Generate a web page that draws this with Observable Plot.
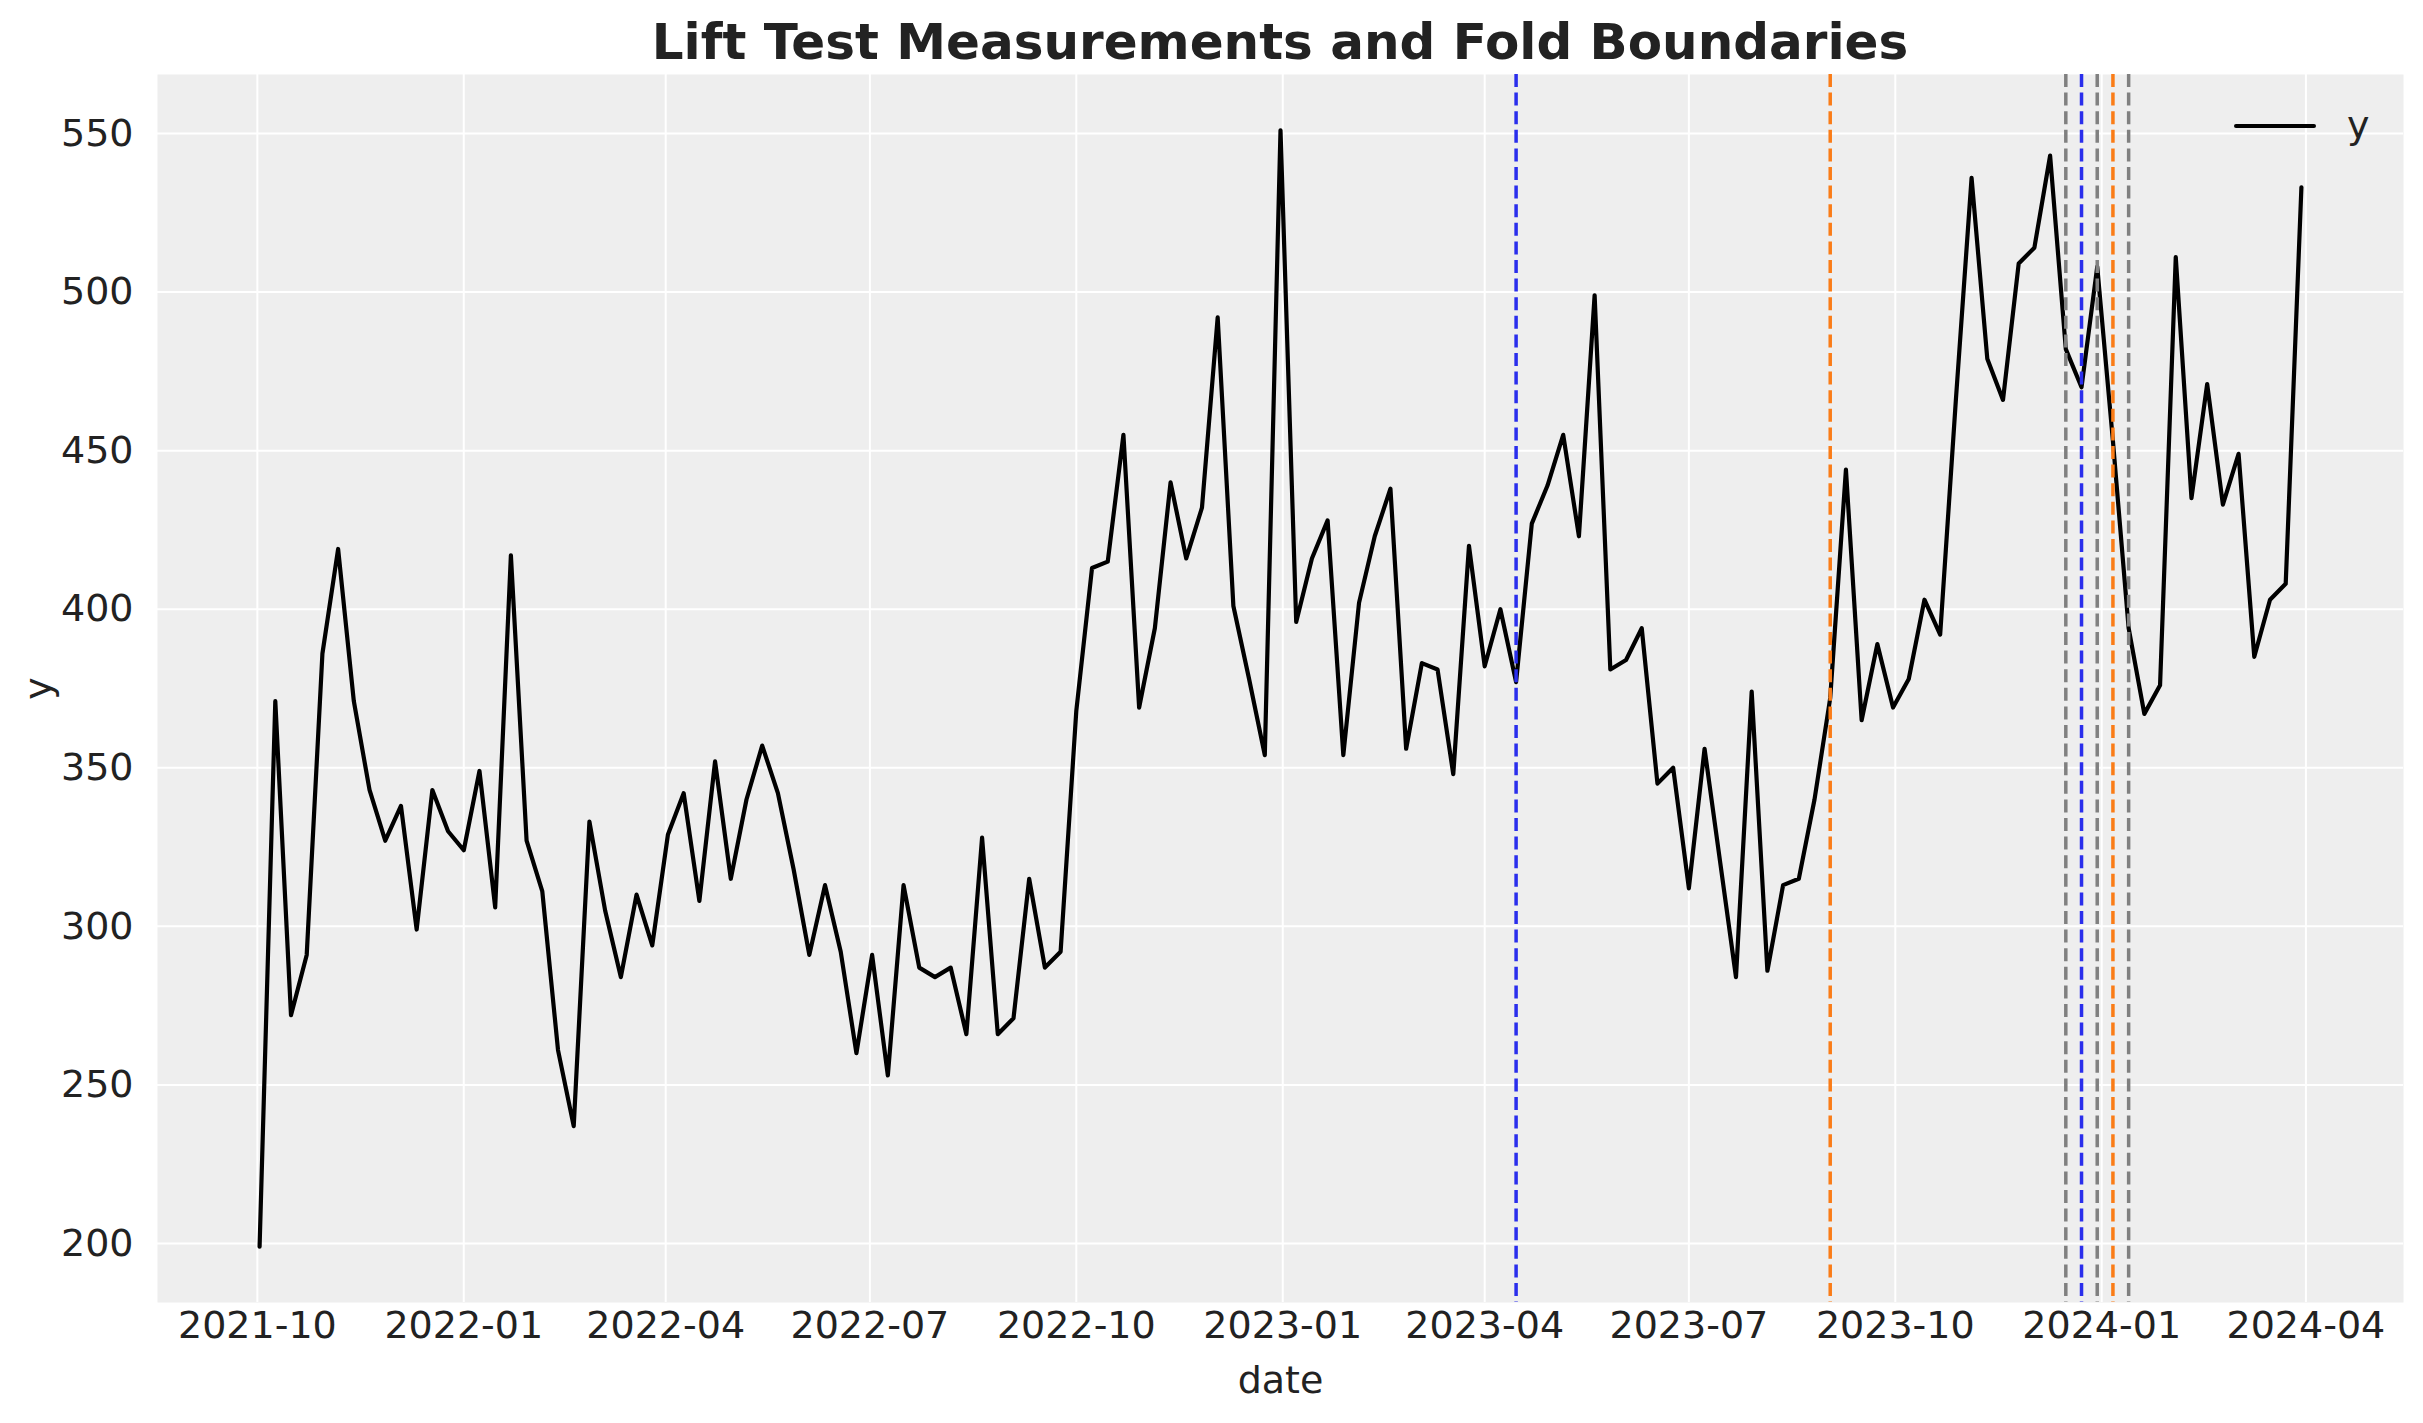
<!DOCTYPE html>
<html>
<head>
<meta charset="utf-8">
<script src="https://cdn.jsdelivr.net/npm/d3@7"></script>
<script src="https://cdn.jsdelivr.net/npm/@observablehq/plot@0.6"></script>
<style>
html, body { margin: 0; padding: 0; background: #ffffff; overflow: hidden; }
#wrap { position: relative; width: 2423px; height: 1423px; font-family: "DejaVu Sans", sans-serif; color: #222222; }
#title { position: absolute; left: 157px; width: 2246px; top: 12px; line-height: 60px; text-align: center; font-weight: bold; font-size: 50px; color: #222222; }
#chart { position: absolute; left: 0; top: 64px; }
#legend { position: absolute; left: 0; top: 0; pointer-events: none; }
</style>
</head>
<body>
<div id="wrap">
  <div id="title">Lift Test Measurements and Fold Boundaries</div>
  <div id="chart"></div>
  <svg id="legend" width="2423" height="200">
    <line x1="2236" x2="2314" y1="126" y2="126" stroke="#000" stroke-width="4" stroke-linecap="round"></line>
    <text x="2347" y="138" font-family="DejaVu Sans" font-size="38" fill="#222222">y</text>
  </svg>
</div>
<script>
// ---- data ----
const startDate = "2021-10-02"; // weekly observations (Saturdays)
const yValues = [
  199,371,272,291,386,419,371,343,327,338,
  299,343,330,324,349,306,417,327,311,261,
  237,333,305,284,310,294,329,342,308,352,
  315,340,357,342,318,291,313,292,260,291,
  253,313,287,284,287,266,328,266,271,315,
  287,292,368,413,415,455,369,394,440,416,
  432,492,401,378,354,551,396,416,428,354,
  402,423,438,356,383,381,348,420,382,400,
  377,427,439,455,423,499,381,384,394,345,
  350,312,356,320,284,374,286,313,315,340,
  372,444,365,389,369,378,403,392,466,536,
  479,466,509,514,543,482,470,508,453,394,
  367,376,511,435,471,433,449,385,403,408,
  533
];
const liftTestX1Dates = ["2023-04-15", "2023-12-23"];
const liftTestX2Dates = ["2023-09-02", "2024-01-06"];
const foldBoundaryDates = ["2023-12-16", "2023-12-30", "2024-01-13"];
const xTickLabels = ["2021-10","2022-01","2022-04","2022-07","2022-10","2023-01","2023-04","2023-07","2023-10","2024-01","2024-04"];
const yTicks = [200, 250, 300, 350, 400, 450, 500, 550];

// ---- build table ----
const parse = d3.utcParse("%Y-%m-%d");
const t0 = parse(startDate);
const data = yValues.map((v, i) => ({date: d3.utcWeek.offset(t0, i), y: v}));
const xTicks = xTickLabels.map(s => d3.utcParse("%Y-%m")(s));
const toRows = arr => arr.map(s => ({date: parse(s)}));

const dMin = data[0].date, dMax = data[data.length - 1].date;
const span = dMax - dMin;
const xDomain = [new Date(+dMin - 0.05 * span), new Date(+dMax + 0.05 * span)];
const yMin = d3.min(yValues), yMax = d3.max(yValues);
const yPad = 0.05 * (yMax - yMin);
const yDomain = [yMin - yPad, yMax + yPad];

const dash = "13,5.6";
const chart = Plot.plot({
  width: 2423,
  height: 1359,
  marginLeft: 157,
  marginRight: 20,
  marginTop: 10,
  marginBottom: 121,
  style: {fontFamily: "DejaVu Sans", fontSize: "38px", color: "#222222", background: "transparent", overflow: "visible"},
  x: {type: "utc", domain: xDomain, ticks: xTicks, tickFormat: d3.utcFormat("%Y-%m"), tickSize: 0, tickPadding: 9,
      label: "date", labelAnchor: "center", labelArrow: "none", labelOffset: 90},
  y: {domain: yDomain, ticks: yTicks, tickSize: 0, tickPadding: 24,
      label: "y", labelAnchor: "center", labelArrow: "none", labelOffset: 133},
  marks: [
    Plot.frame({fill: "#eeeeee", stroke: null}),
    Plot.gridX(xTicks, {stroke: "#ffffff", strokeOpacity: 1, strokeWidth: 2}),
    Plot.gridY(yTicks, {stroke: "#ffffff", strokeOpacity: 1, strokeWidth: 2}),
    Plot.lineY(data, {x: "date", y: "y", stroke: "#000000", strokeWidth: 4.2, strokeLinejoin: "round"}),
    Plot.ruleX(toRows(liftTestX1Dates), {x: "date", stroke: "#2a2eec", strokeWidth: 3.5, strokeDasharray: dash}),
    Plot.ruleX(toRows(liftTestX2Dates), {x: "date", stroke: "#fa7c17", strokeWidth: 3.5, strokeDasharray: dash}),
    Plot.ruleX(toRows(foldBoundaryDates), {x: "date", stroke: "#808080", strokeWidth: 3.5, strokeDasharray: dash})
  ]
});
document.getElementById("chart").appendChild(chart);
</script>
</body>
</html>
